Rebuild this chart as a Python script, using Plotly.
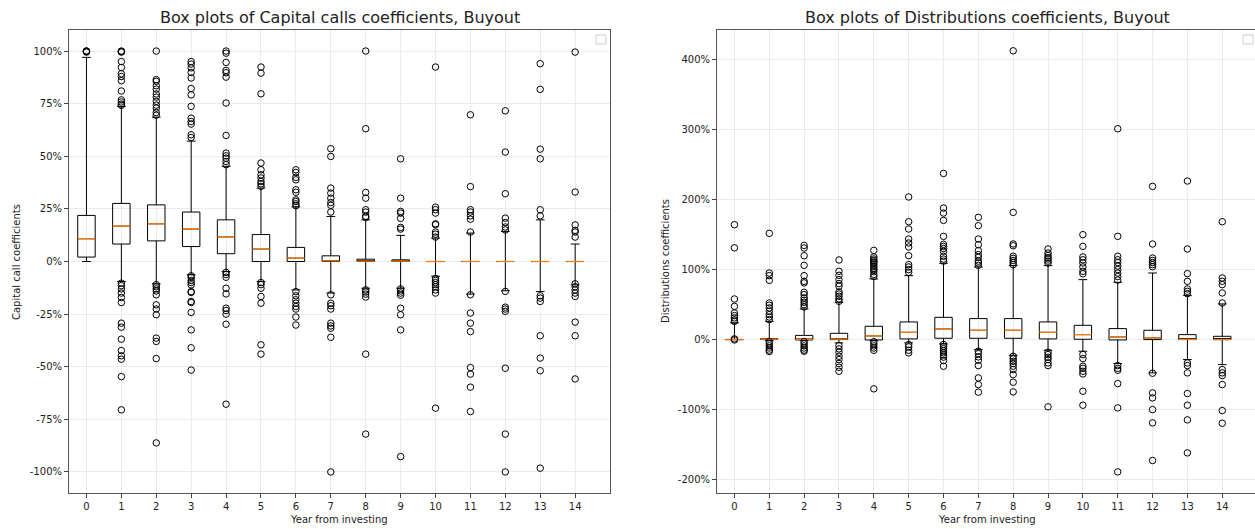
import plotly.graph_objects as go

# Year index shared by both panels
years = list(range(15))

# ---- Capital calls coefficients (box statistics per year) ----
cc_q1 = [0.021, 0.083, 0.098, 0.071, 0.037, 0.0, 0.0, 0.0, 0.0, 0.0, 0.0, 0.0, 0.0, 0.0, 0.0]
cc_median = [0.108, 0.168, 0.179, 0.154, 0.117, 0.059, 0.016, 0.003, 0.002, 0.002, 0.0, 0.0, 0.0, 0.0, 0.0]
cc_q3 = [0.219, 0.276, 0.269, 0.235, 0.198, 0.128, 0.067, 0.027, 0.011, 0.008, 0.0, 0.0, 0.0, 0.0, 0.0]
cc_whisker_lo = [0.0, -0.095, -0.106, -0.063, -0.048, -0.095, -0.135, -0.15, -0.127, -0.127, -0.07, -0.155, -0.139, -0.143, -0.111]
cc_whisker_hi = [0.97, 0.737, 0.686, 0.572, 0.452, 0.349, 0.259, 0.214, 0.198, 0.124, 0.111, 0.135, 0.143, 0.198, 0.083]
cc_outliers = [
    [1.0, 1.0, 0.998, 0.995],
    [1.0, 0.998, 0.995, 0.95, 0.922, 0.892, 0.879, 0.859, 0.81, 0.768, 0.758, 0.748, 0.742,
     -0.103, -0.115, -0.13, -0.15, -0.171, -0.195, -0.293, -0.312, -0.369, -0.423, -0.448, -0.464, -0.547, -0.705],
    [1.0, 0.864, 0.856, 0.835, 0.819, 0.796, 0.781, 0.761, 0.743, 0.729, 0.708, 0.695,
     -0.11, -0.12, -0.13, -0.14, -0.158, -0.206, -0.226, -0.253, -0.364, -0.38, -0.461, -0.862],
    [0.95, 0.938, 0.92, 0.898, 0.872, 0.822, 0.792, 0.737, 0.681, 0.665, 0.653, 0.602, 0.589,
     -0.068, -0.076, -0.09, -0.1, -0.111, -0.143, -0.147, -0.19, -0.195, -0.242, -0.325, -0.41, -0.516],
    [1.0, 0.99, 0.946, 0.908, 0.897, 0.876, 0.753, 0.599, 0.515, 0.502, 0.491, 0.475, 0.46,
     -0.052, -0.062, -0.075, -0.127, -0.154, -0.222, -0.233, -0.25, -0.298, -0.678],
    [0.924, 0.895, 0.797, 0.468, 0.436, 0.412, 0.397, 0.38, 0.369, 0.357,
     -0.1, -0.11, -0.127, -0.166, -0.198, -0.396, -0.44],
    [0.436, 0.423, 0.40, 0.388, 0.341, 0.329, 0.293, 0.285, 0.274, 0.265,
     -0.143, -0.163, -0.182, -0.198, -0.214, -0.226, -0.264, -0.302],
    [0.536, 0.499, 0.349, 0.325, 0.301, 0.28, 0.267, 0.235,
     -0.158, -0.198, -0.21, -0.226, -0.293, -0.306, -0.317, -0.36, -1.0],
    [1.0, 0.631, 0.328, 0.301, 0.246, 0.235, 0.215, 0.21,
     -0.135, -0.145, -0.155, -0.169, -0.44, -0.82],
    [0.488, 0.301, 0.238, 0.23, 0.205, 0.162, 0.154,
     -0.13, -0.14, -0.15, -0.16, -0.222, -0.253, -0.325, -0.927],
    [0.924, 0.258, 0.246, 0.23, 0.179, 0.175, 0.14, 0.13, 0.116,
     -0.08, -0.09, -0.1, -0.11, -0.12, -0.135, -0.15, -0.697],
    [0.697, 0.356, 0.246, 0.235, 0.217, 0.201, 0.14,
     -0.158, -0.245, -0.293, -0.333, -0.504, -0.535, -0.597, -0.713],
    [0.716, 0.52, 0.322, 0.206, 0.185, 0.164, 0.15,
     -0.142, -0.217, -0.226, -0.237, -0.507, -0.82, -1.0],
    [0.94, 0.818, 0.534, 0.488, 0.246, 0.217,
     -0.163, -0.174, -0.19, -0.353, -0.459, -0.519, -0.982],
    [0.995, 0.33, 0.174, 0.148, 0.14, 0.116,
     -0.106, -0.12, -0.135, -0.15, -0.166, -0.288, -0.353, -0.558],
]

# ---- Distributions coefficients (box statistics per year) ----
ds_q1 = [0.0, 0.0, -0.005, 0.0, -0.005, 0.01, 0.019, 0.019, 0.019, 0.01, 0.005, -0.005, 0.0, 0.0, 0.0]
ds_median = [0.0, 0.005, 0.002, 0.008, 0.052, 0.104, 0.153, 0.133, 0.133, 0.104, 0.071, 0.038, 0.024, 0.003, 0.0]
ds_q3 = [0.003, 0.012, 0.06, 0.09, 0.19, 0.252, 0.318, 0.30, 0.30, 0.252, 0.204, 0.157, 0.133, 0.071, 0.047]
ds_whisker_lo = [0.0, -0.014, -0.014, -0.047, -0.014, -0.047, -0.062, -0.143, -0.224, -0.152, -0.166, -0.342, -0.475, -0.285, -0.357]
ds_whisker_hi = [0.238, 0.26, 0.438, 0.532, 0.866, 0.913, 1.09, 1.037, 1.056, 1.056, 0.856, 0.818, 0.951, 0.628, 0.509]
ds_outliers = [
    [1.64, 1.31, 0.58, 0.475, 0.38, 0.342, 0.31, 0.28, 0.26, 0.01, -0.005],
    [1.517, 0.95, 0.913, 0.846, 0.523, 0.49, 0.452, 0.404, 0.357, 0.323, 0.285,
     -0.03, -0.06, -0.09, -0.12, -0.15, -0.17],
    [1.345, 1.308, 1.198, 1.06, 0.913, 0.832, 0.81, 0.675, 0.642, 0.594, 0.561, 0.532, 0.499, 0.466,
     -0.03, -0.06, -0.09, -0.12, -0.15, -0.166],
    [1.137, 0.975, 0.918, 0.856, 0.799, 0.761, 0.68, 0.651, 0.618, 0.58, 0.547,
     -0.086, -0.133, -0.181, -0.238, -0.285, -0.342, -0.395, -0.452],
    [1.274, 1.18, 1.151, 1.13, 1.11, 1.094, 1.07, 1.046, 1.02, 1.0, 0.97, 0.93, 0.90,
     -0.03, -0.06, -0.09, -0.12, -0.152, -0.703],
    [2.036, 1.683, 1.579, 1.436, 1.379, 1.322, 1.198, 1.07, 1.037, 0.999, 0.961,
     -0.071, -0.104, -0.152, -0.19],
    [2.372, 1.878, 1.807, 1.702, 1.474, 1.36, 1.33, 1.30, 1.26, 1.19, 1.15, 1.12,
     -0.07, -0.10, -0.13, -0.16, -0.19, -0.22, -0.25, -0.30, -0.38],
    [1.745, 1.626, 1.436, 1.355, 1.27, 1.213, 1.174, 1.12, 1.094, 1.06,
     -0.166, -0.2, -0.247, -0.295, -0.371, -0.547, -0.642, -0.751],
    [4.123, 1.816, 1.365, 1.34, 1.19, 1.16, 1.13, 1.10, 1.07,
     -0.238, -0.276, -0.31, -0.342, -0.38, -0.428, -0.5, -0.609, -0.747],
    [1.294, 1.237, 1.20, 1.17, 1.15, 1.12, 1.094,
     -0.181, -0.214, -0.252, -0.285, -0.333, -0.371, -0.96],
    [1.498, 1.331, 1.18, 1.14, 1.094, 1.037, 0.975, 0.94,
     -0.214, -0.271, -0.38, -0.41, -0.452, -0.49, -0.737, -0.937],
    [3.01, 1.474, 1.19, 1.14, 1.10, 1.05, 1.0, 0.95, 0.90, 0.85,
     -0.371, -0.41, -0.437, -0.628, -0.975, -1.888],
    [2.187, 1.365, 1.165, 1.13, 1.10, 1.07, 1.04,
     -0.48, -0.761, -0.832, -0.999, -1.189, -1.726],
    [2.264, 1.294, 0.942, 0.832, 0.723, 0.689, 0.656,
     -0.333, -0.371, -0.475, -0.77, -0.937, -1.146, -1.617],
    [1.683, 0.88, 0.832, 0.785, 0.666, 0.523,
     -0.428, -0.475, -0.514, -0.642, -1.013, -1.194],
]

# Axis tick labels
cc_tickvals = [1.0, 0.75, 0.5, 0.25, 0.0, -0.25, -0.5, -0.75, -1.0]
cc_ticktext = ["100%", "75%", "50%", "25%", "0%", "-25%", "-50%", "-75%", "-100%"]
ds_tickvals = [4.0, 3.0, 2.0, 1.0, 0.0, -1.0, -2.0]
ds_ticktext = ["400%", "300%", "200%", "100%", "0%", "-100%", "-200%"]

FONT = "DejaVu Sans"
TEXT = "#222222"
BOX_W = 0.5

fig = go.Figure()


def add_panel(xa, ya, q1, med, q3, lo, hi, outliers):
    fig.add_trace(go.Box(
        x=years, q1=q1, median=med, q3=q3, lowerfence=lo, upperfence=hi,
        width=BOX_W, whiskerwidth=0.5, boxpoints=False,
        line=dict(color="black", width=1), fillcolor="rgba(0,0,0,0)",
        xaxis=xa, yaxis=ya, showlegend=False, hoverinfo="skip",
    ))
    # orange median bars
    mx, my = [], []
    for x, m in zip(years, med):
        mx += [x - BOX_W / 2, x + BOX_W / 2, None]
        my += [m, m, None]
    fig.add_trace(go.Scatter(
        x=mx, y=my, mode="lines", line=dict(color="#ff7f0e", width=1.3),
        xaxis=xa, yaxis=ya, showlegend=False, hoverinfo="skip",
    ))
    # flier points
    ox, oy = [], []
    for x, vals in zip(years, outliers):
        ox += [x] * len(vals)
        oy += vals
    fig.add_trace(go.Scatter(
        x=ox, y=oy, mode="markers",
        marker=dict(symbol="circle-open", size=6.5, color="black", line=dict(width=1, color="black")),
        xaxis=xa, yaxis=ya, showlegend=False, hoverinfo="skip",
    ))


add_panel("x", "y", cc_q1, cc_median, cc_q3, cc_whisker_lo, cc_whisker_hi, cc_outliers)
add_panel("x2", "y2", ds_q1, ds_median, ds_q3, ds_whisker_lo, ds_whisker_hi, ds_outliers)

axis_common = dict(
    showgrid=True, gridcolor="#ebebeb", gridwidth=1, zeroline=False,
    showline=True, linecolor="#555555", linewidth=1,
    ticks="outside", ticklen=4, tickwidth=1, tickcolor="#444444",
    tickfont=dict(family=FONT, size=10, color=TEXT),
)

fig.update_layout(
    width=1255, height=529,
    margin=dict(l=69, r=0, t=30, b=36),
    paper_bgcolor="white", plot_bgcolor="white",
    font=dict(family=FONT, color=TEXT),
    boxgap=0, boxgroupgap=0,
    xaxis=dict(domain=[0, 0.4562], range=[-0.5, 15.0], tickvals=years, mirror=True, anchor="y", **axis_common),
    yaxis=dict(domain=[0, 1], range=[-1.1, 1.1], tickvals=cc_tickvals, ticktext=cc_ticktext, mirror=True, anchor="x", **axis_common),
    xaxis2=dict(domain=[0.5464, 1.0], range=[-0.5, 14.94], tickvals=years, mirror=True, anchor="y2", **axis_common),
    yaxis2=dict(domain=[0, 1], range=[-2.19, 4.42], tickvals=ds_tickvals, ticktext=ds_ticktext, mirror=False, anchor="x2", **axis_common),
)

annotations = [
    dict(text="Box plots of Capital calls coefficients, Buyout", x=0.2281, y=1.027, font=dict(size=16)),
    dict(text="Box plots of Distributions coefficients, Buyout", x=0.7745, y=1.027, font=dict(size=16)),
    dict(text="Year from investing", x=0.228, y=-0.0583, font=dict(size=10)),
    dict(text="Year from investing", x=0.7737, y=-0.0583, font=dict(size=10)),
    dict(text="Capital call coefficients", x=-0.0438, y=0.499, textangle=-90, font=dict(size=10)),
    dict(text="Distributions coefficients", x=0.503, y=0.5, textangle=-90, font=dict(size=10)),
]
for a in annotations:
    fig.add_annotation(xref="paper", yref="paper", showarrow=False,
                       xanchor="center", yanchor="middle",
                       font=dict(family=FONT, color=TEXT, size=a["font"]["size"]),
                       **{k: v for k, v in a.items() if k != "font"})

# empty legend frames in the upper-right corner of each panel
for x0, x1 in [(596, 606), (1243, 1253)]:
    fig.add_shape(type="rect", xref="paper", yref="paper",
                  x0=(x0 - 69) / 1186, x1=(x1 - 69) / 1186,
                  y0=(493 - 44) / 463, y1=(493 - 35) / 463,
                  line=dict(color="#cccccc", width=1), fillcolor="white")

fig.write_html("out.html")
